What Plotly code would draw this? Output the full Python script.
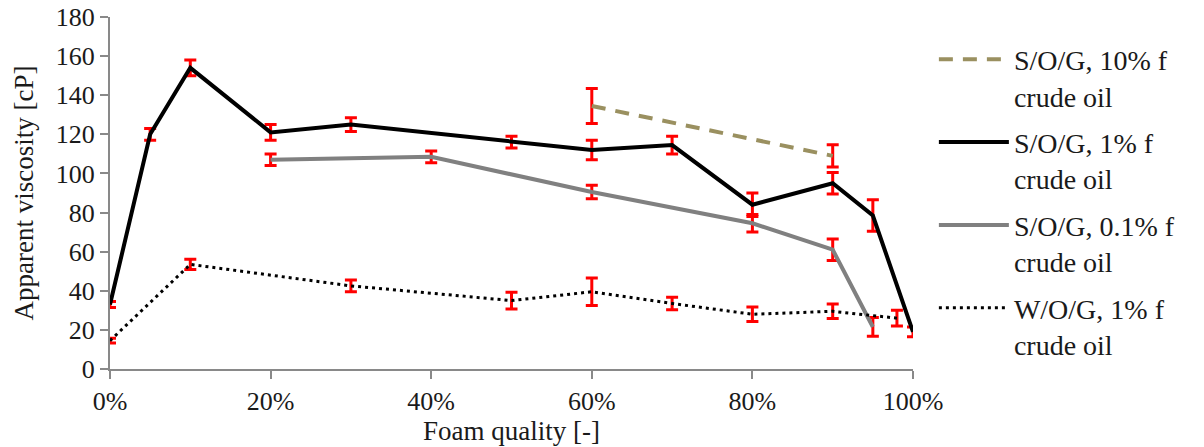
import plotly.graph_objects as go

# ---- data ----
x_sog10 = [0.60, 0.90]
y_sog10 = [134.5, 109]
e_sog10 = [9, 5.7]

x_sog1 = [0.00, 0.05, 0.10, 0.20, 0.30, 0.50, 0.60, 0.70, 0.80, 0.90, 0.95, 1.00]
y_sog1 = [33, 120, 154, 121, 125, 116, 112, 114.5, 84, 95, 78.5, 19]
e_sog1 = [1.5, 3, 4, 4, 3.5, 3, 5, 4.5, 6, 5.5, 8, 2.5]

x_sog01 = [0.20, 0.40, 0.60, 0.80, 0.90, 0.95]
y_sog01 = [107, 108.5, 90.5, 74.5, 61, 21.5]
e_sog01 = [3, 3, 3.5, 4.5, 5.5, 4.8]

x_wog1 = [0.00, 0.10, 0.30, 0.50, 0.60, 0.70, 0.80, 0.90, 0.98]
y_wog1 = [14.5, 53.5, 42.5, 35, 39.5, 33.5, 28, 29.5, 26]
e_wog1 = [1.2, 2.6, 3, 4.3, 7, 3.2, 3.7, 3.7, 4]

names = ["S/O/G, 10% f<br>crude oil", "S/O/G, 1% f<br>crude oil",
         "S/O/G, 0.1% f<br>crude oil", "W/O/G, 1% f<br>crude oil"]

FONT = "Times New Roman"
TXT = "#1a1a1a"
AX = "#898989"

def err(e):
    return dict(type="data", array=e, visible=True, color="#ff0000",
                thickness=3, width=6)

fig = go.Figure()
fig.add_trace(go.Scatter(x=x_sog10, y=y_sog10, mode="lines", name=names[0],
                         line=dict(color="#9a9060", width=4, dash="14px,10px"),
                         error_y=err(e_sog10), legendgroup="a"))
fig.add_trace(go.Scatter(x=x_sog1, y=y_sog1, mode="lines", name=names[1],
                         line=dict(color="#000000", width=4),
                         error_y=err(e_sog1), legendgroup="b"))
fig.add_trace(go.Scatter(x=x_sog01, y=y_sog01, mode="lines", name=names[2],
                         line=dict(color="#808080", width=4),
                         error_y=err(e_sog01), legendgroup="c"))
fig.add_trace(go.Scatter(x=x_wog1, y=y_wog1, mode="lines", name=names[3],
                         line=dict(color="#000000", width=3, dash="3px,4px"),
                         error_y=err(e_wog1), legendgroup="d"))

fig.update_layout(
    width=1204, height=447,
    margin=dict(l=110, r=291, t=17, b=78, autoexpand=False),
    paper_bgcolor="white", plot_bgcolor="white",
    font=dict(family=FONT, size=26, color=TXT),
    showlegend=True,
    legend=dict(x=1.026, y=0.95, xanchor="left", yanchor="top",
                font=dict(family=FONT, size=28, color=TXT),
                traceorder="grouped", tracegroupgap=7, itemwidth=70,
                valign="top", bgcolor="rgba(0,0,0,0)"),
)
fig.update_xaxes(
    range=[0, 1], tickvals=[0, 0.2, 0.4, 0.6, 0.8, 1.0], tickformat=".0%",
    showgrid=False, zeroline=False, showline=True, linecolor=AX, linewidth=2,
    ticks="outside", ticklen=8, tickwidth=2, tickcolor=AX,
    tickfont=dict(family=FONT, size=26, color=TXT),
    title=dict(text="Foam quality [-]", standoff=0,
               font=dict(family=FONT, size=27, color=TXT)),
    automargin=False,
)
fig.update_yaxes(
    range=[0, 180], dtick=20,
    showgrid=False, zeroline=False, showline=True, linecolor=AX, linewidth=2,
    ticks="outside", ticklen=8, tickwidth=2, tickcolor=AX,
    tickfont=dict(family=FONT, size=26, color=TXT),
    title=dict(text="Apparent viscosity [cP]", standoff=14,
               font=dict(family=FONT, size=27, color=TXT)),
    automargin=False,
)

fig.write_html("out.html")
